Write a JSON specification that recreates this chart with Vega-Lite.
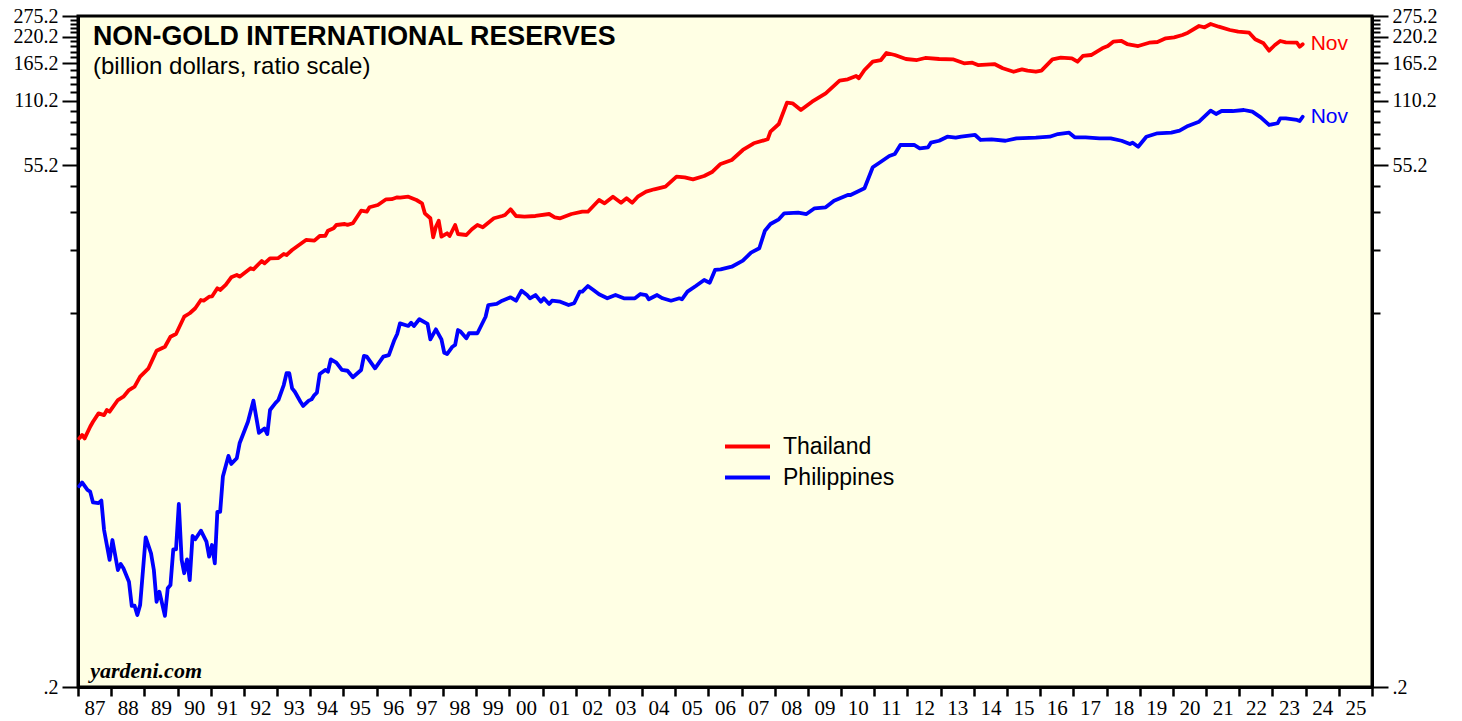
{
  "$schema": "https://vega.github.io/schema/vega-lite/v6.json",
  "width": 1294,
  "height": 671,
  "autosize": {"type": "none"},
  "padding": {"left": 78, "top": 16, "right": 90, "bottom": 34},
  "background": "white",
  "title": {
    "text": "NON-GOLD INTERNATIONAL RESERVES",
    "subtitle": "(billion dollars, ratio scale)",
    "anchor": "start", "frame": "group", "orient": "top", "offset": 0,
    "dx": 15, "dy": 73,
    "font": "Liberation Sans", "fontSize": 26.8, "fontWeight": "bold", "color": "black",
    "subtitleFont": "Liberation Sans", "subtitleFontSize": 24, "subtitleColor": "black", "subtitlePadding": 4
  },
  "config": {
    "view": {"stroke": "black", "strokeWidth": 3, "fill": "#FFFFE4"},
    "axis": {"grid": false, "labelOverlap": false},
    "axisX": {"labelOverlap": false, "labelFlush": false, "labelBound": false},
    "axisY": {"labelOverlap": false}
  },
  "data": {"values": [
    {"date":"1987-01-15","country":"Thailand","value":2.91},
    {"date":"1987-02-15","country":"Thailand","value":3.02},
    {"date":"1987-03-15","country":"Thailand","value":2.91},
    {"date":"1987-05-15","country":"Thailand","value":3.30},
    {"date":"1987-06-15","country":"Thailand","value":3.48},
    {"date":"1987-08-15","country":"Thailand","value":3.81},
    {"date":"1987-10-15","country":"Thailand","value":3.74},
    {"date":"1987-11-15","country":"Thailand","value":3.95},
    {"date":"1987-12-15","country":"Thailand","value":3.88},
    {"date":"1988-03-15","country":"Thailand","value":4.40},
    {"date":"1988-05-15","country":"Thailand","value":4.56},
    {"date":"1988-07-15","country":"Thailand","value":4.90},
    {"date":"1988-09-15","country":"Thailand","value":5.08},
    {"date":"1988-11-15","country":"Thailand","value":5.66},
    {"date":"1989-02-15","country":"Thailand","value":6.19},
    {"date":"1989-04-15","country":"Thailand","value":7.02},
    {"date":"1989-05-15","country":"Thailand","value":7.48},
    {"date":"1989-08-15","country":"Thailand","value":7.81},
    {"date":"1989-10-15","country":"Thailand","value":8.70},
    {"date":"1989-12-15","country":"Thailand","value":8.96},
    {"date":"1990-03-15","country":"Thailand","value":10.79},
    {"date":"1990-05-15","country":"Thailand","value":11.20},
    {"date":"1990-07-15","country":"Thailand","value":11.82},
    {"date":"1990-09-15","country":"Thailand","value":12.92},
    {"date":"1990-10-15","country":"Thailand","value":12.82},
    {"date":"1990-12-15","country":"Thailand","value":13.39},
    {"date":"1991-01-15","country":"Thailand","value":13.42},
    {"date":"1991-03-15","country":"Thailand","value":14.66},
    {"date":"1991-04-15","country":"Thailand","value":14.39},
    {"date":"1991-06-15","country":"Thailand","value":15.19},
    {"date":"1991-08-15","country":"Thailand","value":16.50},
    {"date":"1991-10-15","country":"Thailand","value":16.91},
    {"date":"1991-11-15","country":"Thailand","value":16.61},
    {"date":"1992-03-15","country":"Thailand","value":18.18},
    {"date":"1992-04-15","country":"Thailand","value":17.98},
    {"date":"1992-07-15","country":"Thailand","value":19.66},
    {"date":"1992-08-15","country":"Thailand","value":19.18},
    {"date":"1992-10-15","country":"Thailand","value":20.24},
    {"date":"1993-01-15","country":"Thailand","value":20.30},
    {"date":"1993-03-15","country":"Thailand","value":21.21},
    {"date":"1993-04-15","country":"Thailand","value":20.98},
    {"date":"1993-06-15","country":"Thailand","value":22.14},
    {"date":"1993-08-15","country":"Thailand","value":23.11},
    {"date":"1993-11-15","country":"Thailand","value":24.66},
    {"date":"1994-02-15","country":"Thailand","value":24.47},
    {"date":"1994-04-15","country":"Thailand","value":25.74},
    {"date":"1994-06-15","country":"Thailand","value":25.80},
    {"date":"1994-07-15","country":"Thailand","value":27.25},
    {"date":"1994-09-15","country":"Thailand","value":27.97},
    {"date":"1994-10-15","country":"Thailand","value":28.98},
    {"date":"1995-01-15","country":"Thailand","value":29.29},
    {"date":"1995-02-15","country":"Thailand","value":29.00},
    {"date":"1995-04-15","country":"Thailand","value":29.52},
    {"date":"1995-07-15","country":"Thailand","value":33.81},
    {"date":"1995-09-15","country":"Thailand","value":33.45},
    {"date":"1995-10-15","country":"Thailand","value":35.07},
    {"date":"1996-01-15","country":"Thailand","value":35.95},
    {"date":"1996-04-15","country":"Thailand","value":38.22},
    {"date":"1996-06-15","country":"Thailand","value":38.25},
    {"date":"1996-08-15","country":"Thailand","value":39.05},
    {"date":"1996-09-15","country":"Thailand","value":38.89},
    {"date":"1996-12-15","country":"Thailand","value":39.30},
    {"date":"1997-02-15","country":"Thailand","value":38.34},
    {"date":"1997-03-15","country":"Thailand","value":37.93},
    {"date":"1997-05-15","country":"Thailand","value":36.60},
    {"date":"1997-06-15","country":"Thailand","value":32.87},
    {"date":"1997-08-15","country":"Thailand","value":31.15},
    {"date":"1997-09-15","country":"Thailand","value":25.39},
    {"date":"1997-10-15","country":"Thailand","value":28.45},
    {"date":"1997-11-15","country":"Thailand","value":30.35},
    {"date":"1997-12-15","country":"Thailand","value":25.55},
    {"date":"1998-02-15","country":"Thailand","value":26.50},
    {"date":"1998-03-15","country":"Thailand","value":25.74},
    {"date":"1998-05-15","country":"Thailand","value":28.98},
    {"date":"1998-06-15","country":"Thailand","value":26.30},
    {"date":"1998-09-15","country":"Thailand","value":26.02},
    {"date":"1998-11-15","country":"Thailand","value":27.67},
    {"date":"1999-01-15","country":"Thailand","value":28.98},
    {"date":"1999-03-15","country":"Thailand","value":28.27},
    {"date":"1999-05-15","country":"Thailand","value":29.71},
    {"date":"1999-07-15","country":"Thailand","value":31.15},
    {"date":"1999-10-15","country":"Thailand","value":31.93},
    {"date":"1999-11-15","country":"Thailand","value":32.28},
    {"date":"2000-01-15","country":"Thailand","value":34.32},
    {"date":"2000-03-15","country":"Thailand","value":31.93},
    {"date":"2000-06-15","country":"Thailand","value":31.69},
    {"date":"2000-10-15","country":"Thailand","value":31.93},
    {"date":"2001-03-15","country":"Thailand","value":32.62},
    {"date":"2001-05-15","country":"Thailand","value":31.48},
    {"date":"2001-07-15","country":"Thailand","value":31.15},
    {"date":"2001-11-15","country":"Thailand","value":32.62},
    {"date":"2002-03-15","country":"Thailand","value":33.44},
    {"date":"2002-05-15","country":"Thailand","value":33.44},
    {"date":"2002-09-15","country":"Thailand","value":37.93},
    {"date":"2002-11-15","country":"Thailand","value":36.60},
    {"date":"2003-02-15","country":"Thailand","value":39.30},
    {"date":"2003-05-15","country":"Thailand","value":36.85},
    {"date":"2003-07-15","country":"Thailand","value":38.63},
    {"date":"2003-09-15","country":"Thailand","value":36.85},
    {"date":"2003-11-15","country":"Thailand","value":39.30},
    {"date":"2004-02-15","country":"Thailand","value":41.48},
    {"date":"2004-05-15","country":"Thailand","value":42.57},
    {"date":"2004-09-15","country":"Thailand","value":43.77},
    {"date":"2005-01-15","country":"Thailand","value":48.75},
    {"date":"2005-04-15","country":"Thailand","value":48.43},
    {"date":"2005-07-15","country":"Thailand","value":47.40},
    {"date":"2005-11-15","country":"Thailand","value":49.12},
    {"date":"2006-02-15","country":"Thailand","value":51.45},
    {"date":"2006-05-15","country":"Thailand","value":55.90},
    {"date":"2006-09-15","country":"Thailand","value":58.36},
    {"date":"2007-01-15","country":"Thailand","value":65.0},
    {"date":"2007-05-15","country":"Thailand","value":69.87},
    {"date":"2007-10-15","country":"Thailand","value":72.94},
    {"date":"2007-11-15","country":"Thailand","value":79.16},
    {"date":"2008-02-15","country":"Thailand","value":86.0},
    {"date":"2008-05-15","country":"Thailand","value":108.2},
    {"date":"2008-07-15","country":"Thailand","value":107.5},
    {"date":"2008-10-15","country":"Thailand","value":100.0},
    {"date":"2009-02-15","country":"Thailand","value":109.35},
    {"date":"2009-07-15","country":"Thailand","value":119.7},
    {"date":"2009-12-15","country":"Thailand","value":137.1},
    {"date":"2010-03-15","country":"Thailand","value":139.2},
    {"date":"2010-06-15","country":"Thailand","value":144.2},
    {"date":"2010-07-15","country":"Thailand","value":140.7},
    {"date":"2010-09-15","country":"Thailand","value":153.8},
    {"date":"2010-12-15","country":"Thailand","value":168.2},
    {"date":"2011-03-15","country":"Thailand","value":171.3},
    {"date":"2011-05-15","country":"Thailand","value":184.8},
    {"date":"2011-08-15","country":"Thailand","value":180.8},
    {"date":"2011-12-15","country":"Thailand","value":173.2},
    {"date":"2012-04-15","country":"Thailand","value":171.3},
    {"date":"2012-07-15","country":"Thailand","value":175.1},
    {"date":"2012-12-15","country":"Thailand","value":173.2},
    {"date":"2013-05-15","country":"Thailand","value":172.6},
    {"date":"2013-09-15","country":"Thailand","value":165.4},
    {"date":"2013-12-15","country":"Thailand","value":166.4},
    {"date":"2014-02-15","country":"Thailand","value":162.3},
    {"date":"2014-08-15","country":"Thailand","value":164.0},
    {"date":"2014-11-15","country":"Thailand","value":156.7},
    {"date":"2015-03-15","country":"Thailand","value":151.0},
    {"date":"2015-06-15","country":"Thailand","value":155.0},
    {"date":"2015-08-15","country":"Thailand","value":152.7},
    {"date":"2015-11-15","country":"Thailand","value":151.0},
    {"date":"2016-01-15","country":"Thailand","value":152.7},
    {"date":"2016-05-15","country":"Thailand","value":172.6},
    {"date":"2016-08-15","country":"Thailand","value":175.6},
    {"date":"2016-12-15","country":"Thailand","value":174.5},
    {"date":"2017-02-15","country":"Thailand","value":168.2},
    {"date":"2017-04-15","country":"Thailand","value":178.9},
    {"date":"2017-07-15","country":"Thailand","value":180.8},
    {"date":"2017-11-15","country":"Thailand","value":194.4},
    {"date":"2018-01-15","country":"Thailand","value":199.2},
    {"date":"2018-03-15","country":"Thailand","value":208.7},
    {"date":"2018-06-15","country":"Thailand","value":210.3},
    {"date":"2018-08-15","country":"Thailand","value":203.5},
    {"date":"2018-12-15","country":"Thailand","value":199.2},
    {"date":"2019-04-15","country":"Thailand","value":206.4},
    {"date":"2019-07-15","country":"Thailand","value":208.0},
    {"date":"2019-10-15","country":"Thailand","value":216.4},
    {"date":"2020-01-15","country":"Thailand","value":218.7},
    {"date":"2020-04-15","country":"Thailand","value":224.3},
    {"date":"2020-06-15","country":"Thailand","value":229.9},
    {"date":"2020-10-15","country":"Thailand","value":247.1},
    {"date":"2020-12-15","country":"Thailand","value":243.7},
    {"date":"2021-02-20","country":"Thailand","value":252.5},
    {"date":"2021-05-20","country":"Thailand","value":245.3},
    {"date":"2021-09-20","country":"Thailand","value":236.7},
    {"date":"2021-12-20","country":"Thailand","value":232.4},
    {"date":"2022-04-20","country":"Thailand","value":229.9},
    {"date":"2022-06-25","country":"Thailand","value":214.1},
    {"date":"2022-09-25","country":"Thailand","value":205.1},
    {"date":"2022-11-25","country":"Thailand","value":189.4},
    {"date":"2023-01-28","country":"Thailand","value":201.4},
    {"date":"2023-03-28","country":"Thailand","value":210.2},
    {"date":"2023-05-28","country":"Thailand","value":207.2},
    {"date":"2023-09-28","country":"Thailand","value":206.4},
    {"date":"2023-10-28","country":"Thailand","value":197.7},
    {"date":"2023-11-30","country":"Thailand","value":202.9,"label":"Nov"},
    {"date":"1987-01-15","country":"Philippines","value":1.74},
    {"date":"1987-02-15","country":"Philippines","value":1.81},
    {"date":"1987-04-15","country":"Philippines","value":1.67},
    {"date":"1987-05-15","country":"Philippines","value":1.64},
    {"date":"1987-06-15","country":"Philippines","value":1.46},
    {"date":"1987-08-15","country":"Philippines","value":1.45},
    {"date":"1987-09-15","country":"Philippines","value":1.49},
    {"date":"1987-10-15","country":"Philippines","value":1.085},
    {"date":"1987-12-15","country":"Philippines","value":0.786},
    {"date":"1988-01-15","country":"Philippines","value":0.974},
    {"date":"1988-03-15","country":"Philippines","value":0.705},
    {"date":"1988-04-15","country":"Philippines","value":0.752},
    {"date":"1988-05-15","country":"Philippines","value":0.718},
    {"date":"1988-07-15","country":"Philippines","value":0.622},
    {"date":"1988-08-15","country":"Philippines","value":0.479},
    {"date":"1988-09-15","country":"Philippines","value":0.48},
    {"date":"1988-10-15","country":"Philippines","value":0.434},
    {"date":"1988-11-15","country":"Philippines","value":0.484},
    {"date":"1989-01-15","country":"Philippines","value":1.003},
    {"date":"1989-03-15","country":"Philippines","value":0.844},
    {"date":"1989-04-15","country":"Philippines","value":0.705},
    {"date":"1989-05-15","country":"Philippines","value":0.501},
    {"date":"1989-06-15","country":"Philippines","value":0.558},
    {"date":"1989-08-15","country":"Philippines","value":0.430},
    {"date":"1989-09-15","country":"Philippines","value":0.579},
    {"date":"1989-10-15","country":"Philippines","value":0.600},
    {"date":"1989-11-15","country":"Philippines","value":0.881},
    {"date":"1989-12-15","country":"Philippines","value":0.881},
    {"date":"1990-01-15","country":"Philippines","value":1.436},
    {"date":"1990-02-15","country":"Philippines","value":0.786},
    {"date":"1990-03-15","country":"Philippines","value":0.681},
    {"date":"1990-04-15","country":"Philippines","value":0.791},
    {"date":"1990-05-15","country":"Philippines","value":0.633},
    {"date":"1990-06-15","country":"Philippines","value":1.017},
    {"date":"1990-07-15","country":"Philippines","value":0.982},
    {"date":"1990-09-15","country":"Philippines","value":1.077},
    {"date":"1990-11-15","country":"Philippines","value":0.957},
    {"date":"1990-12-15","country":"Philippines","value":0.814},
    {"date":"1991-01-15","country":"Philippines","value":0.923},
    {"date":"1991-02-15","country":"Philippines","value":0.758},
    {"date":"1991-03-15","country":"Philippines","value":1.32},
    {"date":"1991-04-15","country":"Philippines","value":1.32},
    {"date":"1991-05-15","country":"Philippines","value":1.93},
    {"date":"1991-07-15","country":"Philippines","value":2.41},
    {"date":"1991-08-15","country":"Philippines","value":2.21},
    {"date":"1991-10-15","country":"Philippines","value":2.35},
    {"date":"1991-11-15","country":"Philippines","value":2.76},
    {"date":"1992-02-15","country":"Philippines","value":3.48},
    {"date":"1992-04-15","country":"Philippines","value":4.37},
    {"date":"1992-06-15","country":"Philippines","value":3.09},
    {"date":"1992-08-15","country":"Philippines","value":3.24},
    {"date":"1992-09-15","country":"Philippines","value":3.05},
    {"date":"1992-10-15","country":"Philippines","value":3.95},
    {"date":"1992-12-15","country":"Philippines","value":4.27},
    {"date":"1993-01-15","country":"Philippines","value":4.40},
    {"date":"1993-03-15","country":"Philippines","value":5.17},
    {"date":"1993-04-15","country":"Philippines","value":5.87},
    {"date":"1993-05-15","country":"Philippines","value":5.87},
    {"date":"1993-06-15","country":"Philippines","value":4.99},
    {"date":"1993-07-15","country":"Philippines","value":4.81},
    {"date":"1993-09-15","country":"Philippines","value":4.32},
    {"date":"1993-10-15","country":"Philippines","value":4.13},
    {"date":"1993-12-15","country":"Philippines","value":4.37},
    {"date":"1994-01-15","country":"Philippines","value":4.43},
    {"date":"1994-02-15","country":"Philippines","value":4.64},
    {"date":"1994-03-15","country":"Philippines","value":4.76},
    {"date":"1994-04-15","country":"Philippines","value":5.82},
    {"date":"1994-06-15","country":"Philippines","value":6.08},
    {"date":"1994-07-15","country":"Philippines","value":5.97},
    {"date":"1994-08-15","country":"Philippines","value":6.82},
    {"date":"1994-10-15","country":"Philippines","value":6.58},
    {"date":"1994-12-15","country":"Philippines","value":6.08},
    {"date":"1995-02-15","country":"Philippines","value":6.03},
    {"date":"1995-04-15","country":"Philippines","value":5.62},
    {"date":"1995-07-15","country":"Philippines","value":6.08},
    {"date":"1995-08-15","country":"Philippines","value":7.07},
    {"date":"1995-09-15","country":"Philippines","value":7.02},
    {"date":"1995-12-15","country":"Philippines","value":6.19},
    {"date":"1996-03-15","country":"Philippines","value":7.02},
    {"date":"1996-05-15","country":"Philippines","value":7.14},
    {"date":"1996-07-15","country":"Philippines","value":8.40},
    {"date":"1996-08-15","country":"Philippines","value":8.96},
    {"date":"1996-09-15","country":"Philippines","value":10.05},
    {"date":"1996-12-15","country":"Philippines","value":9.77},
    {"date":"1997-01-15","country":"Philippines","value":10.12},
    {"date":"1997-02-15","country":"Philippines","value":9.77},
    {"date":"1997-04-15","country":"Philippines","value":10.50},
    {"date":"1997-07-15","country":"Philippines","value":9.98},
    {"date":"1997-08-15","country":"Philippines","value":8.46},
    {"date":"1997-10-15","country":"Philippines","value":9.42},
    {"date":"1997-12-15","country":"Philippines","value":8.46},
    {"date":"1998-01-15","country":"Philippines","value":7.32},
    {"date":"1998-02-15","country":"Philippines","value":7.22},
    {"date":"1998-04-15","country":"Philippines","value":7.81},
    {"date":"1998-05-15","country":"Philippines","value":7.96},
    {"date":"1998-06-15","country":"Philippines","value":9.35},
    {"date":"1998-07-15","country":"Philippines","value":9.18},
    {"date":"1998-09-15","country":"Philippines","value":8.55},
    {"date":"1998-10-15","country":"Philippines","value":9.03},
    {"date":"1999-01-15","country":"Philippines","value":9.03},
    {"date":"1999-04-15","country":"Philippines","value":10.79},
    {"date":"1999-05-15","country":"Philippines","value":12.24},
    {"date":"1999-08-15","country":"Philippines","value":12.38},
    {"date":"1999-10-15","country":"Philippines","value":12.82},
    {"date":"2000-01-15","country":"Philippines","value":13.30},
    {"date":"2000-03-15","country":"Philippines","value":12.82},
    {"date":"2000-05-15","country":"Philippines","value":14.28},
    {"date":"2000-07-15","country":"Philippines","value":13.63},
    {"date":"2000-08-15","country":"Philippines","value":13.16},
    {"date":"2000-10-15","country":"Philippines","value":13.63},
    {"date":"2000-12-15","country":"Philippines","value":12.69},
    {"date":"2001-01-15","country":"Philippines","value":13.16},
    {"date":"2001-03-15","country":"Philippines","value":12.38},
    {"date":"2001-04-15","country":"Philippines","value":12.82},
    {"date":"2001-07-15","country":"Philippines","value":12.69},
    {"date":"2001-10-15","country":"Philippines","value":12.24},
    {"date":"2001-12-15","country":"Philippines","value":12.47},
    {"date":"2002-02-15","country":"Philippines","value":14.13},
    {"date":"2002-03-15","country":"Philippines","value":14.13},
    {"date":"2002-05-15","country":"Philippines","value":15.02},
    {"date":"2002-07-15","country":"Philippines","value":14.39},
    {"date":"2002-09-15","country":"Philippines","value":13.74},
    {"date":"2002-12-15","country":"Philippines","value":13.16},
    {"date":"2003-03-15","country":"Philippines","value":13.63},
    {"date":"2003-06-15","country":"Philippines","value":13.16},
    {"date":"2003-10-15","country":"Philippines","value":13.16},
    {"date":"2003-12-15","country":"Philippines","value":13.78},
    {"date":"2004-02-15","country":"Philippines","value":13.63},
    {"date":"2004-03-15","country":"Philippines","value":13.02},
    {"date":"2004-06-15","country":"Philippines","value":13.63},
    {"date":"2004-08-15","country":"Philippines","value":13.16},
    {"date":"2004-11-15","country":"Philippines","value":12.82},
    {"date":"2005-02-15","country":"Philippines","value":13.16},
    {"date":"2005-03-15","country":"Philippines","value":13.02},
    {"date":"2005-05-15","country":"Philippines","value":14.13},
    {"date":"2005-08-15","country":"Philippines","value":15.02},
    {"date":"2005-11-15","country":"Philippines","value":16.03},
    {"date":"2006-01-15","country":"Philippines","value":15.57},
    {"date":"2006-03-15","country":"Philippines","value":17.85},
    {"date":"2006-05-15","country":"Philippines","value":17.98},
    {"date":"2006-09-15","country":"Philippines","value":18.49},
    {"date":"2007-01-15","country":"Philippines","value":19.73},
    {"date":"2007-04-15","country":"Philippines","value":21.51},
    {"date":"2007-07-15","country":"Philippines","value":22.55},
    {"date":"2007-09-15","country":"Philippines","value":27.25},
    {"date":"2007-11-15","country":"Philippines","value":29.29},
    {"date":"2008-02-15","country":"Philippines","value":30.81},
    {"date":"2008-04-15","country":"Philippines","value":32.87},
    {"date":"2008-09-15","country":"Philippines","value":33.08},
    {"date":"2008-12-15","country":"Philippines","value":32.62},
    {"date":"2009-03-15","country":"Philippines","value":34.69},
    {"date":"2009-07-15","country":"Philippines","value":35.07},
    {"date":"2009-10-15","country":"Philippines","value":37.65},
    {"date":"2010-03-15","country":"Philippines","value":40.03},
    {"date":"2010-04-15","country":"Philippines","value":40.03},
    {"date":"2010-09-15","country":"Philippines","value":43.03},
    {"date":"2010-12-15","country":"Philippines","value":53.95},
    {"date":"2011-03-15","country":"Philippines","value":57.27},
    {"date":"2011-06-15","country":"Philippines","value":60.9},
    {"date":"2011-08-15","country":"Philippines","value":62.2},
    {"date":"2011-10-15","country":"Philippines","value":68.6},
    {"date":"2012-03-15","country":"Philippines","value":68.6},
    {"date":"2012-05-15","country":"Philippines","value":66.2},
    {"date":"2012-08-15","country":"Philippines","value":66.9},
    {"date":"2012-09-15","country":"Philippines","value":70.3},
    {"date":"2012-12-15","country":"Philippines","value":71.8},
    {"date":"2013-03-15","country":"Philippines","value":75.0},
    {"date":"2013-06-15","country":"Philippines","value":74.2},
    {"date":"2013-08-15","country":"Philippines","value":75.0},
    {"date":"2014-01-15","country":"Philippines","value":76.4},
    {"date":"2014-03-15","country":"Philippines","value":72.4},
    {"date":"2014-07-15","country":"Philippines","value":72.9},
    {"date":"2014-12-15","country":"Philippines","value":71.8},
    {"date":"2015-04-15","country":"Philippines","value":73.7},
    {"date":"2015-11-15","country":"Philippines","value":74.2},
    {"date":"2016-04-15","country":"Philippines","value":75.0},
    {"date":"2016-07-15","country":"Philippines","value":77.2},
    {"date":"2016-11-15","country":"Philippines","value":78.3},
    {"date":"2017-01-15","country":"Philippines","value":74.5},
    {"date":"2017-05-15","country":"Philippines","value":74.5},
    {"date":"2017-10-15","country":"Philippines","value":73.7},
    {"date":"2018-02-15","country":"Philippines","value":73.7},
    {"date":"2018-06-15","country":"Philippines","value":71.8},
    {"date":"2018-09-15","country":"Philippines","value":69.3},
    {"date":"2018-10-15","country":"Philippines","value":70.3},
    {"date":"2018-12-15","country":"Philippines","value":67.3},
    {"date":"2019-03-15","country":"Philippines","value":75.0},
    {"date":"2019-07-15","country":"Philippines","value":77.8},
    {"date":"2019-12-15","country":"Philippines","value":78.3},
    {"date":"2020-03-15","country":"Philippines","value":80.0},
    {"date":"2020-06-15","country":"Philippines","value":84.2},
    {"date":"2020-10-15","country":"Philippines","value":88.2},
    {"date":"2021-02-20","country":"Philippines","value":99.2},
    {"date":"2021-04-20","country":"Philippines","value":95.8},
    {"date":"2021-06-20","country":"Philippines","value":98.9},
    {"date":"2021-10-20","country":"Philippines","value":98.9},
    {"date":"2022-02-20","country":"Philippines","value":100.0},
    {"date":"2022-05-25","country":"Philippines","value":98.2},
    {"date":"2022-08-25","country":"Philippines","value":92.4},
    {"date":"2022-11-25","country":"Philippines","value":85.1},
    {"date":"2023-02-28","country":"Philippines","value":86.7},
    {"date":"2023-03-28","country":"Philippines","value":91.4},
    {"date":"2023-05-28","country":"Philippines","value":91.4},
    {"date":"2023-09-28","country":"Philippines","value":89.8},
    {"date":"2023-10-28","country":"Philippines","value":88.8},
    {"date":"2023-11-30","country":"Philippines","value":93.0,"label":"Nov"}
  ]},
  "layer": [
    {
      "mark": {"type": "line", "strokeWidth": 3.8, "strokeJoin": "round", "strokeCap": "round"},
      "encoding": {
        "x": {
          "field": "date", "type": "temporal",
          "scale": {"domain": [{"year": 1987, "month": 1, "date": 1}, {"year": 2026, "month": 1, "date": 1}], "nice": false},
          "axis": {
            "title": null, "grid": false, "tickCount": 100,
            "values": [
              {"year":1987,"month":1,"date":1},{"year":1988,"month":1,"date":1},{"year":1989,"month":1,"date":1},{"year":1990,"month":1,"date":1},
              {"year":1991,"month":1,"date":1},{"year":1992,"month":1,"date":1},{"year":1993,"month":1,"date":1},{"year":1994,"month":1,"date":1},
              {"year":1995,"month":1,"date":1},{"year":1996,"month":1,"date":1},{"year":1997,"month":1,"date":1},{"year":1998,"month":1,"date":1},
              {"year":1999,"month":1,"date":1},{"year":2000,"month":1,"date":1},{"year":2001,"month":1,"date":1},{"year":2002,"month":1,"date":1},
              {"year":2003,"month":1,"date":1},{"year":2004,"month":1,"date":1},{"year":2005,"month":1,"date":1},{"year":2006,"month":1,"date":1},
              {"year":2007,"month":1,"date":1},{"year":2008,"month":1,"date":1},{"year":2009,"month":1,"date":1},{"year":2010,"month":1,"date":1},
              {"year":2011,"month":1,"date":1},{"year":2012,"month":1,"date":1},{"year":2013,"month":1,"date":1},{"year":2014,"month":1,"date":1},
              {"year":2015,"month":1,"date":1},{"year":2016,"month":1,"date":1},{"year":2017,"month":1,"date":1},{"year":2018,"month":1,"date":1},
              {"year":2019,"month":1,"date":1},{"year":2020,"month":1,"date":1},{"year":2021,"month":1,"date":1},{"year":2022,"month":1,"date":1},
              {"year":2023,"month":1,"date":1},{"year":2024,"month":1,"date":1},{"year":2025,"month":1,"date":1},{"year":2026,"month":1,"date":1}
            ],
            "format": "%y", "formatType": "time",
            "labelExpr": "year(datum.value) > 2025 ? '' : datum.label",
            "labelOffset": 16.6, "labelAlign": "center", "labelBaseline": "top", "labelPadding": 1,
            "labelFont": "Liberation Serif", "labelFontSize": 21, "labelColor": "black",
            "labelOverlap": false, "labelFlush": false, "labelBound": false,
            "tickSize": 9, "tickWidth": 2.5, "tickColor": "black",
            "domain": true, "domainColor": "black", "domainWidth": 3
          }
        },
        "y": {
          "field": "value", "type": "quantitative",
          "scale": {"type": "log", "domain": [0.2, 275.2], "nice": false},
          "axis": {
            "orient": "left", "title": null, "grid": false, "tickCount": 100,
            "values": [0.2, 11.2, 22.2, 33.2, 44.2, 55.2, 66.2, 77.2, 88.2, 99.2, 110.2, 121.2, 132.2, 143.2, 154.2, 165.2, 176.2, 187.2, 198.2, 209.2, 220.2, 231.2, 242.2, 253.2, 264.2, 275.2],
            "labelExpr": "round((datum.value - 0.2) / 11) % 5 == 0 ? (datum.value < 1 ? '.2' : format(datum.value, '.1f')) : ''",
            "tickSize": {"condition": {"test": "round((datum.value - 0.2) / 11) % 5 == 0", "value": 16}, "value": 8},
            "tickWidth": 2, "tickColor": "black",
            "labelFont": "Liberation Serif", "labelFontSize": 20, "labelColor": "black", "labelPadding": 4,
            "labelOverlap": false, "labelBound": false, "labelFlush": false,
            "domain": true, "domainColor": "black", "domainWidth": 3
          }
        },
        "color": {
          "field": "country", "type": "nominal",
          "scale": {"domain": ["Thailand", "Philippines"], "range": ["#FF0000", "#0000FF"]},
          "legend": {
            "orient": "none", "legendX": 658, "legendY": 419, "title": null,
            "symbolType": "M-3,0H3", "symbolSize": 225, "symbolStrokeWidth": 4,
            "labelFont": "Liberation Sans", "labelFontSize": 23, "labelColor": "black",
            "labelOffset": 24, "rowPadding": 7, "padding": 0
          }
        }
      }
    },
    {
      "transform": [{"filter": "datum.label"}],
      "mark": {"type": "text", "align": "left", "baseline": "middle", "dx": 8, "font": "Liberation Sans", "fontSize": 21},
      "encoding": {
        "x": {"field": "date", "type": "temporal"},
        "y": {
          "field": "value", "type": "quantitative",
          "axis": {
            "orient": "right", "title": null, "grid": false, "tickCount": 100,
            "values": [0.2, 11.2, 22.2, 33.2, 44.2, 55.2, 66.2, 77.2, 88.2, 99.2, 110.2, 121.2, 132.2, 143.2, 154.2, 165.2, 176.2, 187.2, 198.2, 209.2, 220.2, 231.2, 242.2, 253.2, 264.2, 275.2],
            "labelExpr": "round((datum.value - 0.2) / 11) % 5 == 0 ? (datum.value < 1 ? '.2' : format(datum.value, '.1f')) : ''",
            "tickSize": {"condition": {"test": "round((datum.value - 0.2) / 11) % 5 == 0", "value": 16}, "value": 8},
            "tickWidth": 2, "tickColor": "black",
            "labelFont": "Liberation Serif", "labelFontSize": 20, "labelColor": "black", "labelPadding": 4,
            "labelOverlap": false, "labelBound": false, "labelFlush": false,
            "domain": true, "domainColor": "black", "domainWidth": 3
          }
        },
        "color": {"field": "country", "type": "nominal"},
        "text": {"field": "label", "type": "nominal"}
      }
    },
    {
      "data": {"values": [{"site": "yardeni.com"}]},
      "mark": {"type": "text", "align": "left", "baseline": "alphabetic", "font": "Liberation Serif", "fontSize": 22, "fontWeight": "bold", "fontStyle": "italic", "color": "black"},
      "encoding": {
        "x": {"datum": {"year": 1987, "month": 5, "date": 15}, "type": "temporal"},
        "y": {"datum": 0.2204, "type": "quantitative", "axis": null},
        "text": {"field": "site", "type": "nominal"}
      }
    }
  ],
  "resolve": {"axis": {"y": "independent"}}
}
